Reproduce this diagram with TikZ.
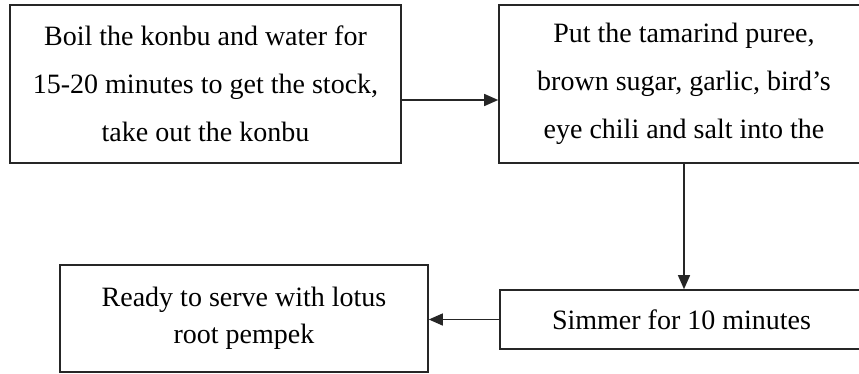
\documentclass[tikz,border=0pt]{standalone}
\usepackage{fontspec}
\setmainfont{Liberation Serif}
\usepackage{tikz}
\usetikzlibrary{positioning,arrows.meta}

\begin{document}
\begin{tikzpicture}[
    x=1pt,
    y=-1pt,
    stepbox/.style={
        draw=black!85,
        line width=1.6pt,
        align=center,
        inner sep=0pt,
        font=\fontsize{28}{48}\selectfont
    },
    >={Triangle[length=14pt,width=12pt]}
]

% Canvas
\useasboundingbox (0,0) rectangle (859,374);
\clip (0,0) rectangle (859,374);

% Define steps
\node[stepbox,minimum width=391pt,minimum height=158pt] (boil) at (205.5,84) {
    Boil the konbu and water for\\
    15-20 minutes to get the stock,\\
    take out the konbu
};
\node[stepbox,minimum width=370pt,minimum height=158pt] (mix) at (684,84) {
    Put the tamarind puree,\\
    brown sugar, garlic, bird’s\\
    eye chili and salt into the
};
\node[stepbox,minimum width=370pt,minimum height=59pt] (simmer) at (685,319.5) {
    Simmer for 10 minutes
};
\node[stepbox,font=\fontsize{28}{37}\selectfont,minimum width=368pt,minimum height=107pt] (serve) at (244,318.5) {
    Ready to serve with lotus\\
    root pempek
};

% Define transitions
\draw[->,black!85,line width=1.4pt] ([yshift=-16pt]boil.east) -- ([yshift=-16pt]boil.east -| mix.west);
\draw[->,black!85,line width=1.4pt] (mix.south) -- (mix.south |- simmer.north);
\draw[->,black!85,line width=1.4pt] (simmer.west) -- (simmer.west -| serve.east);

\end{tikzpicture}
\end{document}
